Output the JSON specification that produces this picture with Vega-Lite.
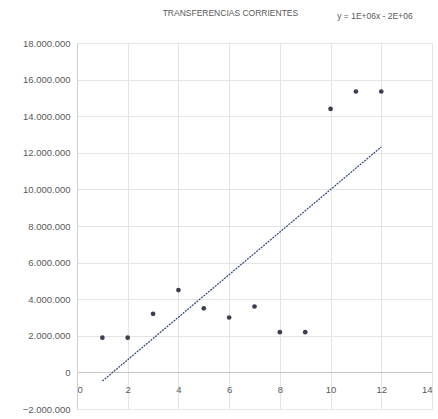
{
  "$schema": "https://vega.github.io/schema/vega-lite/v6.json",
  "autosize": "none",
  "width": 355,
  "height": 366,
  "padding": {"left": 77, "top": 43, "right": 6, "bottom": 10},
  "background": "white",
  "config": {
    "view": {"stroke": null},
    "font": "Liberation Sans",
    "axis": {"labelFont": "Liberation Sans", "labelColor": "#595959", "labelFontSize": 9.5, "labelOverlap": false, "gridColor": "#e4e4e4", "domainColor": "#d0d0d0", "ticks": false, "title": null}
  },
  "datasets": {
    "pts": [
      {"x": 1, "y": 1900000},
      {"x": 2, "y": 1900000},
      {"x": 3, "y": 3200000},
      {"x": 4, "y": 4500000},
      {"x": 5, "y": 3500000},
      {"x": 6, "y": 3000000},
      {"x": 7, "y": 3600000},
      {"x": 8, "y": 2200000},
      {"x": 9, "y": 2200000},
      {"x": 10, "y": 14400000},
      {"x": 11, "y": 15350000},
      {"x": 12, "y": 15350000}
    ],
    "labels": [
      {"x": 6.05, "y": 19650000, "label": "TRANSFERENCIAS  CORRIENTES"},
      {"x": 11.75, "y": 19500000, "label": "y = 1E+06x - 2E+06"}
    ]
  },
  "layer": [
    {
      "data": {"name": "pts"},
      "mark": {"type": "point", "filled": true, "size": 22, "color": "#3a3f4f", "opacity": 1},
      "encoding": {
        "x": {"field": "x", "type": "quantitative", "scale": {"domain": [0, 14], "nice": false},
          "axis": {"values": [0, 2, 4, 6, 8, 10, 12, 14], "tickCount": 20, "format": "d", "offset": -37, "labelPadding": 12, "labelOverlap": false, "domainColor": "#c8c8c8", "grid": true}},
        "y": {"field": "y", "type": "quantitative", "scale": {"domain": [-2000000, 18000000], "nice": false},
          "axis": {"values": [-2000000, 0, 2000000, 4000000, 6000000, 8000000, 10000000, 12000000, 14000000, 16000000, 18000000],
            "tickCount": 20, "labelExpr": "replace(format(datum.value, ',d'), /,/g, '.')", "labelPadding": 7, "labelOverlap": false, "labelFlush": false, "domain": true}}
      }
    },
    {
      "data": {"name": "pts"},
      "transform": [{"regression": "y", "on": "x", "extent": [1, 12]}],
      "mark": {"type": "line", "color": "#3b4f86", "strokeWidth": 1.3, "strokeDash": [2, 1]},
      "encoding": {
        "x": {"field": "x", "type": "quantitative"},
        "y": {"field": "y", "type": "quantitative"}
      }
    },
    {
      "data": {"name": "labels"},
      "mark": {"type": "text", "fontSize": 8.5, "color": "#595959", "clip": false, "font": "Liberation Sans"},
      "encoding": {
        "x": {"field": "x", "type": "quantitative"},
        "y": {"field": "y", "type": "quantitative"},
        "text": {"field": "label"}
      }
    }
  ]
}
